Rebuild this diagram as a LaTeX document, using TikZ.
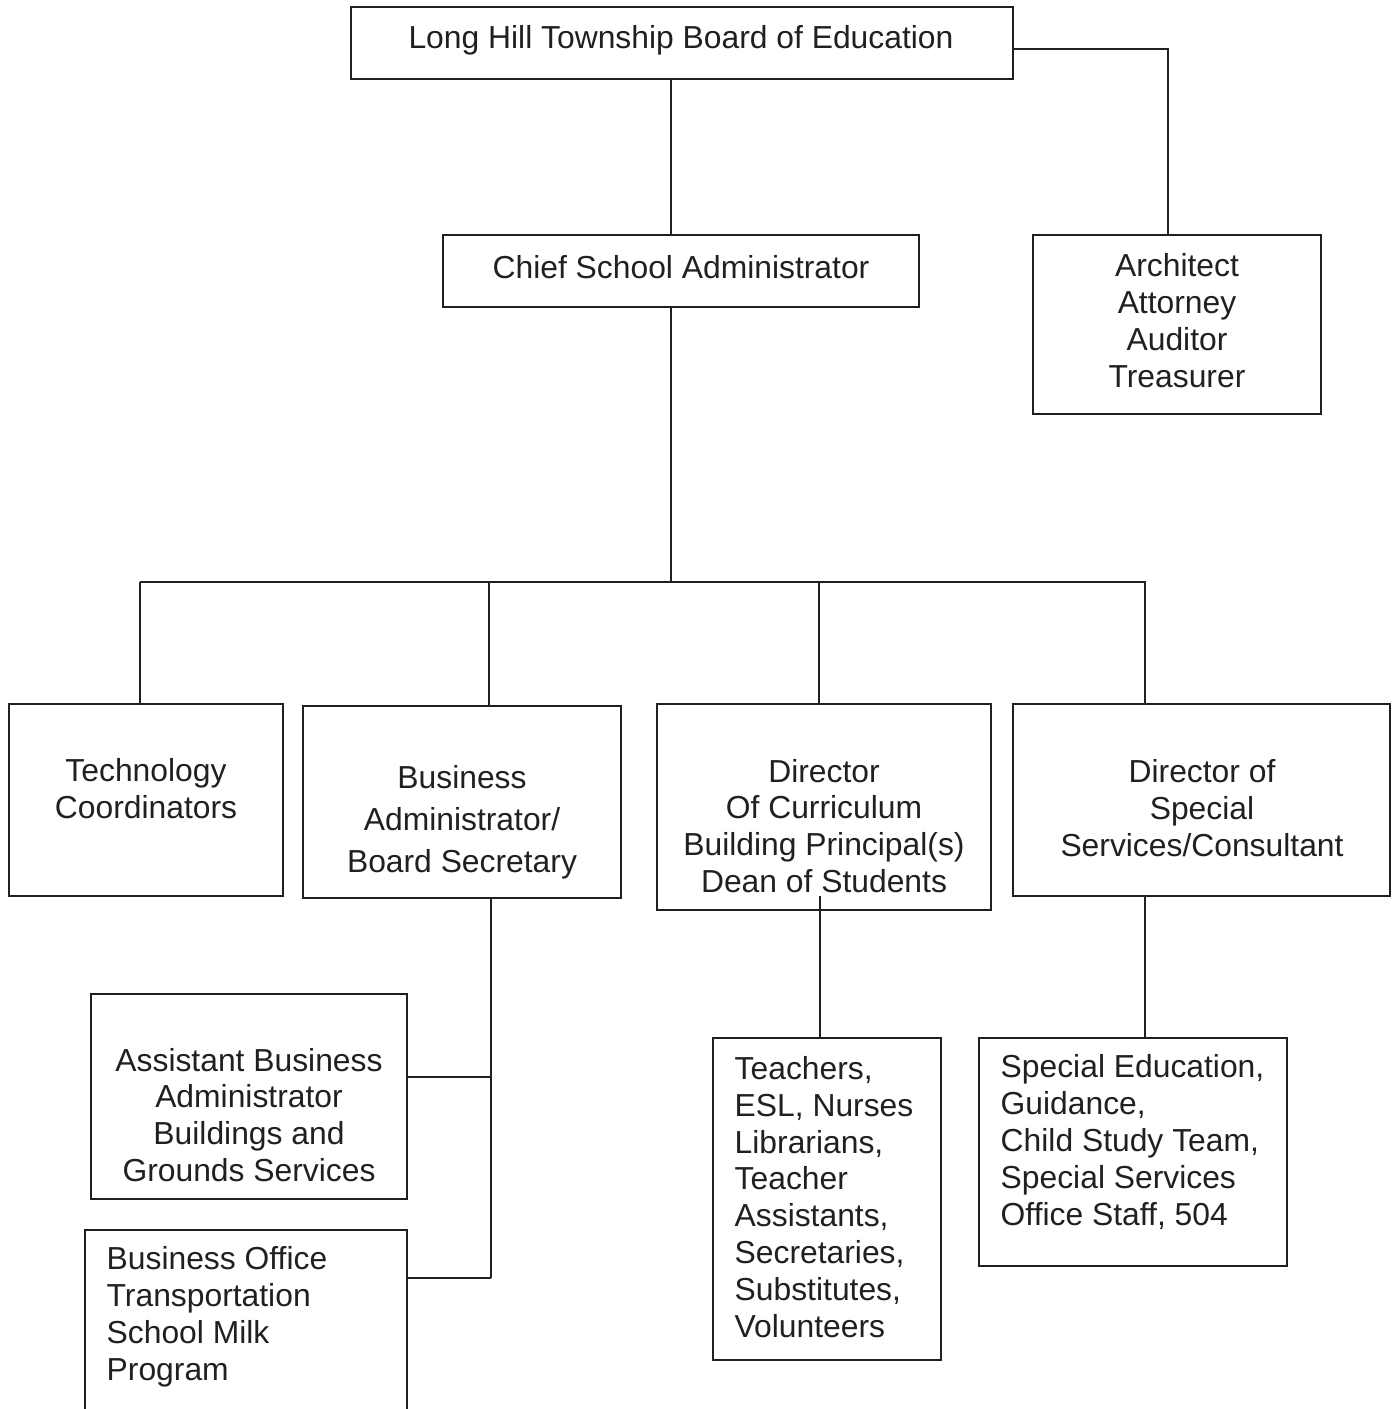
\documentclass[tikz,border=0pt]{standalone}
\usepackage{fontspec}
\setmainfont{Liberation Sans}
\usetikzlibrary{positioning,calc}
\definecolor{ink}{HTML}{231F20}

\tikzset{
    box/.style={draw=ink, line width=0.55pt, inner sep=0pt},
    lbl/.style={text=ink, font=\fontsize{9.05pt}{10.5pt}\selectfont, align=center, inner sep=0pt},
    lbll/.style={lbl, align=left, anchor=west},
    wire/.style={draw=ink, line width=0.4pt}
}

\begin{document}
\begin{tikzpicture}[x=0.01cm, y=-0.01cm]

    % frame
    \useasboundingbox (0,0) rectangle (1398,1409);
    \clip (0,0) rectangle (1398,1409);

    % top
    \node[box, minimum width=6.62cm, minimum height=0.72cm] (board) at (682,43) {};
    \node[lbl] (board_t) at (681,40) {Long Hill Township Board of Education};

    \node[box, minimum width=4.76cm, minimum height=0.72cm] (chief) at (681,271) {};
    \node[lbl] (chief_t) at (681,267) {Chief School Administrator};

    \node[box, minimum width=2.88cm, minimum height=1.79cm] (arch) at (1177,324.5) {};
    \node[lbl] (arch_t) at (1177,321) {Architect\\Attorney\\Auditor\\Treasurer};

    % second row
    \node[box, minimum width=2.74cm, minimum height=1.92cm] (tech) at (146,800) {};
    \node[lbl] (tech_t) at (146,789) {Technology\\Coordinators};

    \node[box, minimum width=3.18cm, minimum height=1.92cm] (busadm) at (462,802) {};
    \node[lbl] (busadm_t) at (462,822) {Business\\[1.4pt]Administrator/\\[1.4pt]Board Secretary};

    \node[box, minimum width=3.34cm, minimum height=2.06cm] (curric) at (824,807) {};
    \node[lbl] (curric_t) at (824,826) {Director\\Of Curriculum\\Building Principal(s)\\Dean of Students};

    \node[box, minimum width=3.77cm, minimum height=1.92cm] (special) at (1201.5,800) {};
    \node[lbl] (special_t) at (1202,808) {Director of\\Special\\Services/Consultant};

    % third row
    \node[box, minimum width=3.16cm, minimum height=2.05cm] (asst) at (249,1096.5) {};
    \node[lbl] (asst_t) at (249,1115) {Assistant Business\\Administrator\\Buildings and\\Grounds Services};

    \node[box, minimum width=3.22cm, minimum height=1.90cm] (office) at (246,1325) {};
    \node[lbll] (office_t) at (106,1317) {Business Office\\Transportation\\School Milk\\Program};

    \node[box, minimum width=2.28cm, minimum height=3.22cm] (teach) at (827,1199) {};
    \node[lbll] (teach_t) at (734,1197) {Teachers,\\ESL, Nurses\\Librarians,\\Teacher\\Assistants,\\Secretaries,\\Substitutes,\\Volunteers};

    \node[box, minimum width=3.08cm, minimum height=2.28cm] (sped) at (1133,1152) {};
    \node[lbll] (sped_t) at (1000,1142) {Special Education,\\Guidance,\\Child Study Team,\\Special Services\\Office Staff, 504};

    % board links
    \coordinate (hub) at (671,582);
    \draw[wire]
        (board.south -| hub) --
        (chief.north -| hub);
    \draw[wire]
        (chief.south -| hub) --
        (hub);

    \coordinate (a1) at (1168,49);
    \draw[wire]
        (a1 -| board.east) --
        (a1) --
        (a1 |- arch.north);

    % bar
    \coordinate (d1) at (140,582);
    \coordinate (d2) at (489,582);
    \coordinate (d3) at (819,582);
    \coordinate (d4) at (1145,582);
    \draw[wire]
        (d1) --
        (1146,582);

    \draw[wire] (d1) -- (d1 |- tech.north);
    \draw[wire] (d2) -- (d2 |- busadm.north);
    \draw[wire] (d3) -- (d3 |- curric.north);
    \draw[wire] (d4) -- (d4 |- special.north);

    % business office links
    \coordinate (j1) at (491,1077);
    \coordinate (j2) at (491,1278);
    \draw[wire]
        (busadm.south -| j2) --
        (j2);
    \draw[wire] (j1) -- (j1 -| asst.east);
    \draw[wire] (j2) -- (j2 -| office.east);

    % staff links
    \coordinate (c1) at (820,896);
    \draw[wire]
        (c1) --
        (c1 |- teach.north);

    \draw[wire]
        (special.south -| d4) --
        (d4 |- sped.north);

\end{tikzpicture}
\end{document}
